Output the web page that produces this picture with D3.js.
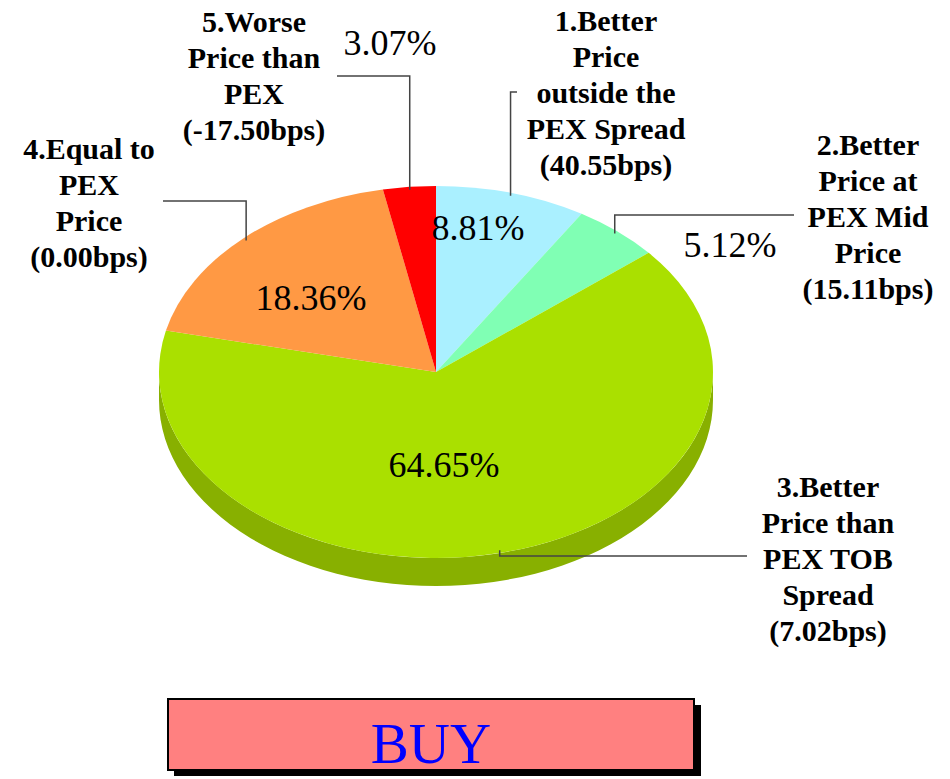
<!DOCTYPE html>
<html>
<head>
<meta charset="utf-8">
<script src="https://cdn.jsdelivr.net/npm/d3@7"></script>
<style>
body { margin: 0; background: #fff; }
</style>
</head>
<body>
<div id="chart"></div>
<script>
// data
var categories = [
    "1.Better\nPrice\noutside the\nPEX Spread\n(40.55bps)",
    "2.Better\nPrice at\nPEX Mid\nPrice\n(15.11bps)",
    "3.Better\nPrice than\nPEX TOB\nSpread\n(7.02bps)",
    "4.Equal to\nPEX\nPrice\n(0.00bps)",
    "5.Worse\nPrice than\nPEX\n(-17.50bps)"
];
var values = [8.81, 5.12, 64.65, 18.36, 3.07];
var title = "BUY";

// styles / layout
var colors = ["#aaf0ff", "#80ffb4", "#aae000", "#ff9944", "#ff0000"];
var sideColors = ["#88c0cc", "#66cc90", "#88b000", "#cc7a36", "#cc0000"];
var W = 950, H = 779;
var cx = 436, cy = 372, rx = 277, ry = 186, depth = 28;
var catPos = [[606, 31], [868, 155], [828, 497], [89, 159], [254, 32]];
var pctPos = [[478, 240], [730, 257], [444, 477], [311, 310], [390, 55]];
var leaders = [[92, 517], [215, 794], [556, 747], [201, 163], [76, 337]]; // knee y, end x

var svg = d3.select('#chart').append('svg')
    .attr('width', W)
    .attr('height', H);

var pie = d3.pie().sort(null).value(d => d);
var arcs = pie(values);

// point on the top ellipse for a d3 angle
var rim = (a, k) => [cx + rx * k * Math.sin(a), cy - ry * k * Math.cos(a)];

// visible side wall (front half)
var sides = svg.append('g');
arcs.forEach(function(d, i) {
    var a0 = Math.max(d.startAngle, Math.PI / 2),
        a1 = Math.min(d.endAngle, Math.PI * 3 / 2);
    if (a1 <= a0) return;
    var pts = [];
    for (var t = 0; t <= 60; t++) pts.push(rim(a0 + (a1 - a0) * t / 60, 1));
    var bottom = pts.map(p => [p[0], p[1] + depth]).reverse();
    sides.append('path')
        .attr('d', d3.line()(pts.concat(bottom)) + 'Z')
        .attr('fill', sideColors[i]);
});

// top face: circular arcs squashed into an ellipse
var arc = d3.arc().innerRadius(0).outerRadius(rx);
svg.append('g')
    .attr('transform', 'translate(' + cx + ',' + cy + ') scale(1,' + (ry / rx) + ')')
    .selectAll('path')
    .data(arcs)
    .enter().append('path')
    .attr('d', arc)
    .attr('fill', (d, i) => colors[i]);

// leader lines
svg.append('g').selectAll('path')
    .data(arcs)
    .enter().append('path')
    .attr('d', function(d, i) {
        var p = rim((d.startAngle + d.endAngle) / 2, 0.985);
        return d3.line()([p, [p[0], leaders[i][0]], [leaders[i][1], leaders[i][0]]]);
    })
    .attr('fill', 'none')
    .attr('stroke', '#444')
    .attr('stroke-width', 1.5);

// percent labels
svg.append('g').selectAll('text')
    .data(arcs)
    .enter().append('text')
    .attr('x', (d, i) => pctPos[i][0])
    .attr('y', (d, i) => pctPos[i][1])
    .attr('text-anchor', 'middle')
    .style('font-family', '"Liberation Serif", "Times New Roman", serif')
    .style('font-size', '36px')
    .text(d => d.data.toFixed(2) + '%');

// category labels
var cat = svg.append('g').selectAll('text')
    .data(categories)
    .enter().append('text')
    .attr('x', (d, i) => catPos[i][0])
    .attr('y', (d, i) => catPos[i][1])
    .attr('text-anchor', 'middle')
    .style('font-family', '"Liberation Serif", "Times New Roman", serif')
    .style('font-weight', 'bold')
    .style('font-size', '30px');
cat.each(function(d, i) {
    d3.select(this).selectAll('tspan')
        .data(d.split('\n'))
        .enter().append('tspan')
        .attr('x', catPos[i][0])
        .attr('dy', (s, j) => j ? 36 : 0)
        .text(s => s);
});

// BUY box
svg.append('rect')
    .attr('x', 174).attr('y', 705)
    .attr('width', 527).attr('height', 71)
    .attr('fill', '#000');
svg.append('rect')
    .attr('x', 168).attr('y', 699)
    .attr('width', 526).attr('height', 71)
    .attr('fill', '#ff8080')
    .attr('stroke', '#000')
    .attr('stroke-width', 2);
svg.append('text')
    .attr('x', 431).attr('y', 763)
    .attr('text-anchor', 'middle')
    .style('font-family', '"Liberation Serif", "Times New Roman", serif')
    .style('font-size', '57px')
    .attr('fill', '#0000ff')
    .text(title);
</script>
</body>
</html>
